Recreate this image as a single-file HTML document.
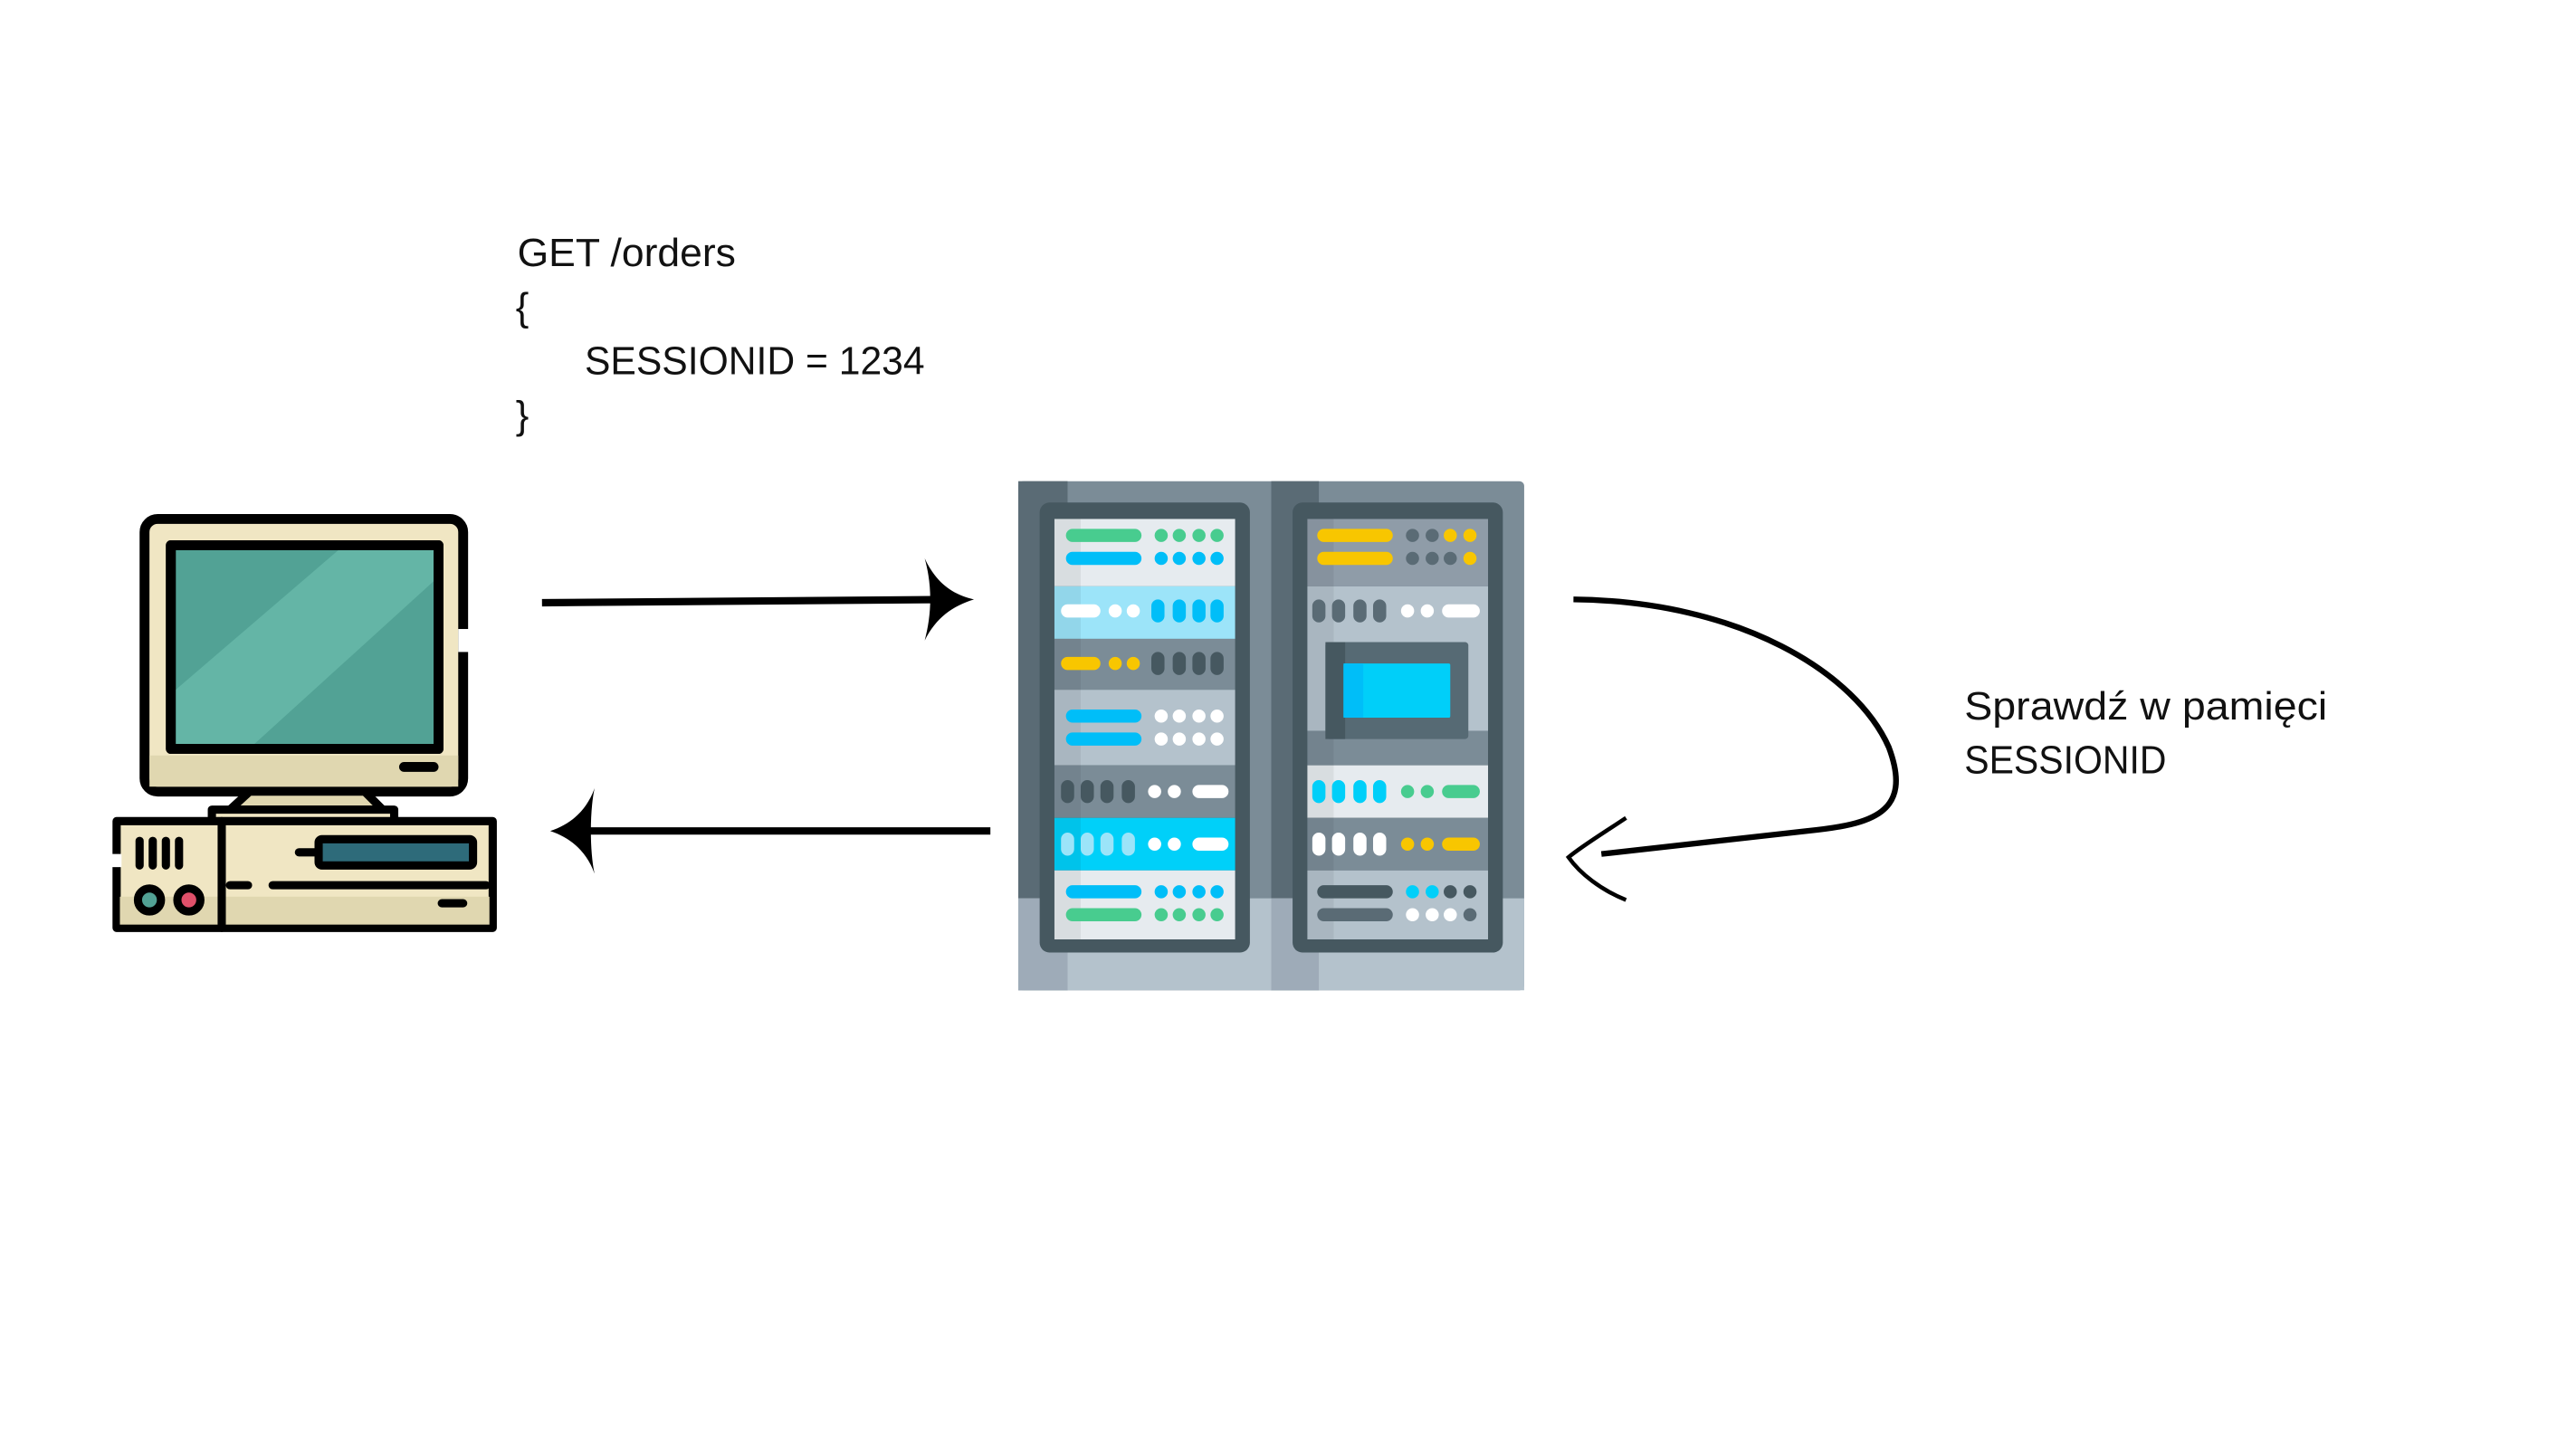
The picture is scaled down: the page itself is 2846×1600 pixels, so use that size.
<!DOCTYPE html>
<html><head><meta charset="utf-8"><style>
html,body{margin:0;padding:0;background:#fff;width:2846px;height:1600px;overflow:hidden}
svg{display:block}
text{font-family:"Liberation Sans",sans-serif;fill:#111}
</style></head><body>
<svg width="2846" height="1600" viewBox="0 0 1568.4 881.7" preserveAspectRatio="none" xmlns="http://www.w3.org/2000/svg">
<rect width="1580" height="890" fill="#fff"/>
<text x="315" y="162" font-size="24" textLength="133" lengthAdjust="spacingAndGlyphs">GET /orders</text>
<text x="314" y="195" font-size="24">{</text>
<text x="356" y="228" font-size="24" textLength="207" lengthAdjust="spacingAndGlyphs">SESSIONID = 1234</text>
<text x="314" y="261" font-size="24">}</text>
<text x="1196" y="438" font-size="24" textLength="221" lengthAdjust="spacingAndGlyphs">Sprawdź w pamięci</text>
<text x="1196" y="471" font-size="24" textLength="123" lengthAdjust="spacingAndGlyphs">SESSIONID</text>

<g stroke="#000" stroke-linecap="round" stroke-linejoin="round">
<rect x="88" y="316" width="194" height="166" rx="8" fill="#f0e6c3" stroke-width="6"/>
<rect x="91" y="460" width="188" height="19" fill="#e0d7b0" stroke="none"/>
<rect x="104" y="332" width="163" height="124" fill="#52a295" stroke-width="6"/>
<polygon points="206,335 264,335 264,354 155,453 107,453 107,420" fill="#64b5a6" stroke="none"/>
<polygon points="264,354 264,453 155,453" fill="#52a295" stroke="none"/>
<rect x="104" y="332" width="163" height="124" fill="none" stroke-width="6"/>
<line x1="246" y1="467" x2="264" y2="467" stroke-width="6"/>
<rect x="279" y="383" width="8" height="14" fill="#fff" stroke="none"/>
<polygon points="152,482 222,482 233,493 140,493" fill="#e0d7b0" stroke-width="5"/>
<rect x="129" y="493" width="111" height="8" fill="#f0e6c3" stroke-width="5"/>
<rect x="71" y="500" width="229" height="65" fill="#f0e6c3" stroke-width="5"/>
<rect x="73" y="546" width="225" height="17" fill="#e0d7b0" stroke="none"/>
<line x1="135" y1="500" x2="135" y2="565" stroke-width="5"/>
<rect x="66" y="520" width="8" height="8" fill="#fff" stroke="none"/>
<g stroke-width="5"><line x1="85" y1="512" x2="85" y2="527"/><line x1="93" y1="512" x2="93" y2="527"/><line x1="101" y1="512" x2="101" y2="527"/><line x1="109" y1="512" x2="109" y2="527"/></g>
<circle cx="91" cy="548" r="7" fill="#52a295" stroke-width="5"/>
<circle cx="115" cy="548" r="7" fill="#e0506a" stroke-width="5"/>
<rect x="194" y="511" width="94" height="16" rx="2" fill="#2e6b7a" stroke-width="5"/>
<line x1="182" y1="519" x2="192" y2="519" stroke-width="5"/>
<line x1="140" y1="539" x2="151" y2="539" stroke-width="5"/>
<line x1="166" y1="539" x2="296" y2="539" stroke-width="5"/>
<line x1="269" y1="550" x2="282" y2="550" stroke-width="5"/>
</g>

<g stroke="#000" fill="none" stroke-width="4.5">
<line x1="330" y1="367" x2="585" y2="365"/>
<line x1="603" y1="506" x2="345" y2="506"/>
<path d="M958,365 C1060,366 1130,410 1150,455 C1165,495 1140,502 1100,506 L975,520" stroke-width="3.5"/>
<path d="M990,498 C975,508 962,516 955,522 C962,532 975,542 990,548" stroke-width="2.5"/>
</g>
<path d="M563,340 C570,355 580,362 593,365 C580,369 570,376 563,390 C567,375 568,358 563,340 Z" fill="#000"/>
<path d="M362,480 C357,494 347,502 335,506 C347,510 357,518 362,532 C359,518 359,494 362,480 Z" fill="#000"/>

<rect x="620" y="293" width="308" height="310" rx="3" fill="#7b8c97"/>
<rect x="620" y="293" width="30" height="310" fill="#5a6b75"/>
<rect x="774" y="293" width="29" height="310" fill="#5a6b75"/>
<rect x="620" y="547" width="308" height="56" fill="#b4c2cc"/>
<rect x="620" y="547" width="30" height="56" fill="#9eabb8"/>
<rect x="774" y="547" width="29" height="56" fill="#9eabb8"/>
<rect x="633" y="306" width="128" height="274" rx="6" fill="#465860"/>
<rect x="787" y="306" width="128" height="274" rx="6" fill="#465860"/>
<rect x="642" y="316" width="110" height="41" fill="#e6ebef"/>
<rect x="642" y="357" width="110" height="32" fill="#9ce4f9"/>
<rect x="642" y="389" width="110" height="31" fill="#7b8c97"/>
<rect x="642" y="420" width="110" height="46" fill="#b4c2cc"/>
<rect x="642" y="466" width="110" height="32" fill="#7b8c97"/>
<rect x="642" y="498" width="110" height="32" fill="#00d0f9"/>
<rect x="642" y="530" width="110" height="42" fill="#e6ebef"/>
<rect x="642" y="316" width="16" height="256" fill="#000" opacity="0.06"/>
<rect x="796" y="316" width="110" height="41" fill="#8f9ca8"/>
<rect x="796" y="357" width="110" height="88" fill="#b4c2cc"/>
<rect x="796" y="445" width="110" height="21" fill="#7b8c97"/>
<rect x="796" y="466" width="110" height="32" fill="#e6ebef"/>
<rect x="796" y="498" width="110" height="32" fill="#7b8c97"/>
<rect x="796" y="530" width="110" height="42" fill="#b4c2cc"/>
<rect x="796" y="316" width="16" height="256" fill="#000" opacity="0.06"/>
<rect x="807" y="391" width="87" height="59" rx="2" fill="#566a74"/>
<rect x="807" y="391" width="12" height="59" fill="#465860"/>
<rect x="818" y="404" width="65" height="33" rx="1" fill="#00cff9"/>
<rect x="818" y="404" width="12" height="33" fill="#00bef8"/>
<g stroke-linecap="round" stroke-width="8" fill="none">
<line x1="653" y1="326" x2="691" y2="326" stroke="#48cc8f"/>
<line x1="653" y1="340" x2="691" y2="340" stroke="#00bef8"/>
<line x1="653" y1="543" x2="691" y2="543" stroke="#00bef8"/>
<line x1="653" y1="557" x2="691" y2="557" stroke="#48cc8f"/>
<line x1="653" y1="436" x2="691" y2="436" stroke="#00bef8"/>
<line x1="653" y1="450" x2="691" y2="450" stroke="#00bef8"/>
<line x1="650" y1="372" x2="666" y2="372" stroke="#fff"/>
<line x1="650" y1="404" x2="666" y2="404" stroke="#f8c600"/>
<line x1="730" y1="482" x2="744" y2="482" stroke="#fff"/>
<line x1="730" y1="514" x2="744" y2="514" stroke="#fff"/>
<line x1="806" y1="326" x2="844" y2="326" stroke="#f8c600"/>
<line x1="806" y1="340" x2="844" y2="340" stroke="#f8c600"/>
<line x1="806" y1="543" x2="844" y2="543" stroke="#465860"/>
<line x1="806" y1="557" x2="844" y2="557" stroke="#5a6b75"/>
<line x1="882" y1="372" x2="897" y2="372" stroke="#fff"/>
<line x1="882" y1="482" x2="897" y2="482" stroke="#48cc8f"/>
<line x1="882" y1="514" x2="897" y2="514" stroke="#f8c600"/>
</g>
<g stroke-linecap="round" stroke-width="8" fill="none">
<path d="M705,369v6M718,369v6M730,369v6M741,369v6" stroke="#00bef8"/>
<path d="M705,401v6M718,401v6M730,401v6M741,401v6" stroke="#465860"/>
<path d="M650,479v6M662,479v6M674,479v6M687,479v6" stroke="#465860"/>
<path d="M650,511v6M662,511v6M674,511v6M687,511v6" stroke="#9ce4f9"/>
<path d="M803,369v6M815,369v6M828,369v6M840,369v6" stroke="#5a6b75"/>
<path d="M803,479v6M815,479v6M828,479v6M840,479v6" stroke="#00cff9"/>
<path d="M803,511v6M815,511v6M828,511v6M840,511v6" stroke="#fff"/>
</g>
<g>
<g fill="#48cc8f"><circle cx="707" cy="326" r="4"/><circle cx="718" cy="326" r="4"/><circle cx="730" cy="326" r="4"/><circle cx="741" cy="326" r="4"/>
<circle cx="707" cy="557" r="4"/><circle cx="718" cy="557" r="4"/><circle cx="730" cy="557" r="4"/><circle cx="741" cy="557" r="4"/></g>
<g fill="#00bef8"><circle cx="707" cy="340" r="4"/><circle cx="718" cy="340" r="4"/><circle cx="730" cy="340" r="4"/><circle cx="741" cy="340" r="4"/>
<circle cx="707" cy="543" r="4"/><circle cx="718" cy="543" r="4"/><circle cx="730" cy="543" r="4"/><circle cx="741" cy="543" r="4"/></g>
<g fill="#fff"><circle cx="707" cy="436" r="4"/><circle cx="718" cy="436" r="4"/><circle cx="730" cy="436" r="4"/><circle cx="741" cy="436" r="4"/>
<circle cx="707" cy="450" r="4"/><circle cx="718" cy="450" r="4"/><circle cx="730" cy="450" r="4"/><circle cx="741" cy="450" r="4"/>
<circle cx="679" cy="372" r="4"/><circle cx="690" cy="372" r="4"/>
<circle cx="703" cy="482" r="4"/><circle cx="715" cy="482" r="4"/>
<circle cx="703" cy="514" r="4"/><circle cx="715" cy="514" r="4"/>
<circle cx="857" cy="372" r="4"/><circle cx="869" cy="372" r="4"/>
<circle cx="860" cy="557" r="4"/><circle cx="872" cy="557" r="4"/><circle cx="883" cy="557" r="4"/></g>
<g fill="#f8c600"><circle cx="679" cy="404" r="4"/><circle cx="690" cy="404" r="4"/>
<circle cx="883" cy="326" r="4"/><circle cx="895" cy="326" r="4"/><circle cx="895" cy="340" r="4"/>
<circle cx="857" cy="514" r="4"/><circle cx="869" cy="514" r="4"/></g>
<g fill="#5a6b75"><circle cx="860" cy="326" r="4"/><circle cx="872" cy="326" r="4"/><circle cx="860" cy="340" r="4"/><circle cx="872" cy="340" r="4"/><circle cx="883" cy="340" r="4"/><circle cx="895" cy="557" r="4"/></g>
<g fill="#48cc8f"><circle cx="857" cy="482" r="4"/><circle cx="869" cy="482" r="4"/></g>
<g fill="#00cff9"><circle cx="860" cy="543" r="4"/><circle cx="872" cy="543" r="4"/></g>
<g fill="#465860"><circle cx="883" cy="543" r="4"/><circle cx="895" cy="543" r="4"/></g>
</g>
</svg>
</body></html>
